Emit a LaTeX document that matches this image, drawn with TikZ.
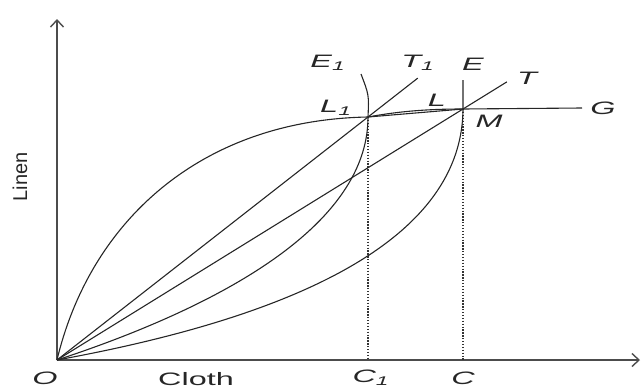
\documentclass[tikz,border=0pt]{standalone}
\usepackage{fontspec}
\setmainfont{Liberation Sans}
\usetikzlibrary{arrows.meta,calc}
\begin{document}
\begin{tikzpicture}[x=1pt,y=-1pt,
  curve/.style={line width=1.1pt,black!85},
  axis/.style={line width=1.4pt,black!70,-{Straight Barb[length=7pt,width=13pt,line width=1.4pt]}},
  dots/.style={line width=1.6pt,black!80,dash pattern=on 1.3pt off 1.6pt},
  lab/.style={font=\fontsize{18}{20}\selectfont\itshape,inner sep=0pt,text=black!85,xscale=1.8},
  word/.style={font=\fontsize{18}{20}\selectfont,inner sep=0pt,text=black!85,xscale=1.8},
  vword/.style={font=\fontsize{20}{22}\selectfont,inner sep=0pt,text=black!85,rotate=90}]
\useasboundingbox (0,0) rectangle (641,389);
\coordinate (O) at (57,360);
\coordinate (Ytop) at (57,19);
\coordinate (Xend) at (640,360);
\coordinate (L1) at (368,117);
\coordinate (M) at (463,109);
\coordinate (C1) at (368,360);
\coordinate (C) at (463,360);
\coordinate (Gend) at (582,108);
\coordinate (E1top) at (361,74);
\coordinate (Etop) at (463,80);
\coordinate (T1end) at ($(O)!1.16!(L1)$);
\coordinate (Tend) at ($(O)!1.108!(M)$);
% axes
\draw[axis] (O) -- (Ytop);
\draw[axis] (O) -- (Xend);
% dotted verticals
\draw[dots] (L1) -- (C1);
\draw[dots] (M) -- (C);
% rays
\draw[curve] (O) -- (T1end);
\draw[curve] (O) -- (Tend);
% G curve
\draw[curve] (O) .. controls (90,222) and (200,120) .. (L1)
  .. controls (400,111) and (430,109) .. (M) -- (Gend);
\draw[curve] (L1) -- (M);
% E1 curve
\draw[curve] (O) .. controls (200,313) and (368,233) .. (L1)
  .. controls (369,95) .. (E1top);
% E curve
\draw[curve] (O) .. controls (260,323) and (462,253) .. (M) -- (Etop);
% labels
\node[lab] (lE1) at (328,63) {E\textsubscript{1}};
\node[lab] (lT1) at (418,63) {T\textsubscript{1}};
\node[lab] (lE) at (473,64) {E};
\node[lab] (lT) at (527,78) {T};
\node[lab] (lL1) at (336,108) {L\textsubscript{1}};
\node[lab] (lL) at (437,100) {L};
\node[lab] (lM) at (489,121) {M};
\node[lab] (lG) at (603,108) {G};
\node[lab] (lO) at (45,378) {O};
\node[word] (lCloth) at (196,379) {Cloth};
\node[lab] (lC1) at (371,378) {C\textsubscript{1}};
\node[lab] (lC) at (463,378) {C};
\node[vword] (lLinen) at (20,177) {Linen};
\end{tikzpicture}
\end{document}
